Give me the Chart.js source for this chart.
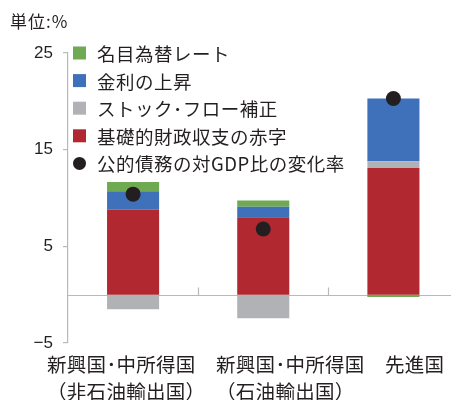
<!DOCTYPE html>
<html>
<head>
<meta charset="utf-8">
<script src="https://cdn.jsdelivr.net/npm/chart.js@4.4.0/dist/chart.umd.min.js"></script>
<style>
  html, body { margin: 0; padding: 0; background: #fff; overflow: hidden; }
  #wrap { position: relative; width: 451px; height: 400px; overflow: hidden; }
  canvas { position: absolute; left: 0; top: 0; }
</style>
</head>
<body>
<div id="wrap"><canvas id="chart" width="466" height="400"></canvas></div>
<script>
// categories and values
var categories = [['新興国･中所得国', '（非石油輸出国）'], ['新興国･中所得国', '（石油輸出国）'], ['先進国']];
var primaryDeficit = [8.8, 8.0, 13.1];
var stockFlow = [-1.5, -2.45, 0.7];
var interestRate = [1.9, 1.1, 6.5];
var exchangeRate = [0.95, 0.65, -0.25];
var debtChange = [10.4, 6.8, 20.3];
var yTicks = [-5, 5, 15, 25];
var unitLabel = '単位:%';

var textColor = '#231f20';
var axisColor = '#b9b9bd';
var jpFont = '"Noto Sans CJK JP", "Noto Sans", sans-serif';

// legend order from top to bottom (dataset index)
var legendOrder = [3, 2, 1, 0, 4];
var labelLeft = [47, 216, 385];

var decor = {
  id: 'decor',
  beforeDatasetsDraw: function (chart) {
    var ctx = chart.ctx, xs = chart.scales.x, ys = chart.scales.y;
    var y0 = Math.round(ys.getPixelForValue(0)) + 0.5;
    ctx.save();
    ctx.strokeStyle = axisColor;
    ctx.lineWidth = 1.2;
    ctx.beginPath();
    ctx.moveTo(chart.chartArea.left, y0);
    ctx.lineTo(chart.chartArea.right, y0);
    // category separators, pointing up from the zero line
    for (var i = 0; i < categories.length - 1; i++) {
      var xm = Math.round((xs.getPixelForValue(i) + xs.getPixelForValue(i + 1)) / 2) + 0.5;
      ctx.moveTo(xm, y0);
      ctx.lineTo(xm, y0 - 8);
    }
    ctx.stroke();
    ctx.restore();
  },
  afterDraw: function (chart) {
    var ctx = chart.ctx;
    ctx.save();
    ctx.fillStyle = textColor;
    ctx.textBaseline = 'middle';
    ctx.textAlign = 'left';
    ctx.font = '17px ' + jpFont;
    ctx.letterSpacing = '1px';
    ctx.fillText(unitLabel, 10, 22);

    // legend
    ctx.font = '18.5px ' + jpFont;
    ctx.letterSpacing = '0.5px';
    legendOrder.forEach(function (idx, row) {
      var ds = chart.data.datasets[idx];
      var cy = 53 + row * 27.6;
      ctx.fillStyle = ds.backgroundColor;
      if (ds.type === 'line') {
        ctx.beginPath();
        ctx.arc(79.5, cy, 6.5, 0, Math.PI * 2);
        ctx.fill();
      } else {
        ctx.fillRect(73, cy - 6.5, 13, 13);
      }
      ctx.fillStyle = textColor;
      ctx.fillText(ds.label, 97, cy + 1);
    });

    // category labels
    ctx.font = '19.5px ' + jpFont;
    ctx.letterSpacing = '0.3px';
    categories.forEach(function (lines, i) {
      lines.forEach(function (line, k) {
        ctx.fillText(line, labelLeft[i], 365 + k * 27);
      });
    });
    ctx.restore();
  }
};

var barOpts = { categoryPercentage: 0.8, barPercentage: 0.5, borderWidth: 0, stack: 'bars', order: 1 };

new Chart(document.getElementById('chart'), {
  type: 'bar',
  data: {
    labels: categories,
    datasets: [
      Object.assign({ label: '基礎的財政収支の赤字', data: primaryDeficit, backgroundColor: '#b22830' }, barOpts),
      Object.assign({ label: 'ストック･フロー補正', data: stockFlow, backgroundColor: '#b1b2b5' }, barOpts),
      Object.assign({ label: '金利の上昇', data: interestRate, backgroundColor: '#3e71b9' }, barOpts),
      Object.assign({ label: '名目為替レート', data: exchangeRate, backgroundColor: '#6faa52' }, barOpts),
      {
        type: 'line', label: '公的債務の対GDP比の変化率', data: debtChange,
        showLine: false, pointRadius: 7.5, pointBackgroundColor: '#231f20',
        backgroundColor: '#231f20', borderColor: '#231f20', pointBorderWidth: 0,
        stack: 'dots', order: 0
      }
    ]
  },
  options: {
    responsive: false,
    animation: false,
    devicePixelRatio: 1,
    layout: { padding: { top: 53, left: 0, right: 0, bottom: 0 } },
    plugins: { legend: { display: false }, tooltip: { enabled: false } },
    scales: {
      x: {
        stacked: true,
        ticks: { display: false },
        grid: { display: false },
        border: { display: false },
        afterFit: function (s) { s.height = 57; }
      },
      y: {
        stacked: true,
        min: -5,
        max: 25,
        afterBuildTicks: function (s) { s.ticks = yTicks.map(function (v) { return { value: v }; }); },
        afterFit: function (s) { s.width = 68; },
        grid: { drawOnChartArea: false, drawTicks: true, tickLength: 5, tickColor: axisColor, lineWidth: 1.2 },
        border: { display: true, color: axisColor, width: 1.2 },
        ticks: {
          padding: 10,
          color: textColor,
          font: { family: '"Liberation Sans", Arial, sans-serif', size: 17 },
          callback: function (v) { return v < 0 ? '\u2212' + Math.abs(v) : String(v); }
        }
      }
    }
  },
  plugins: [decor]
});
</script>
</body>
</html>
